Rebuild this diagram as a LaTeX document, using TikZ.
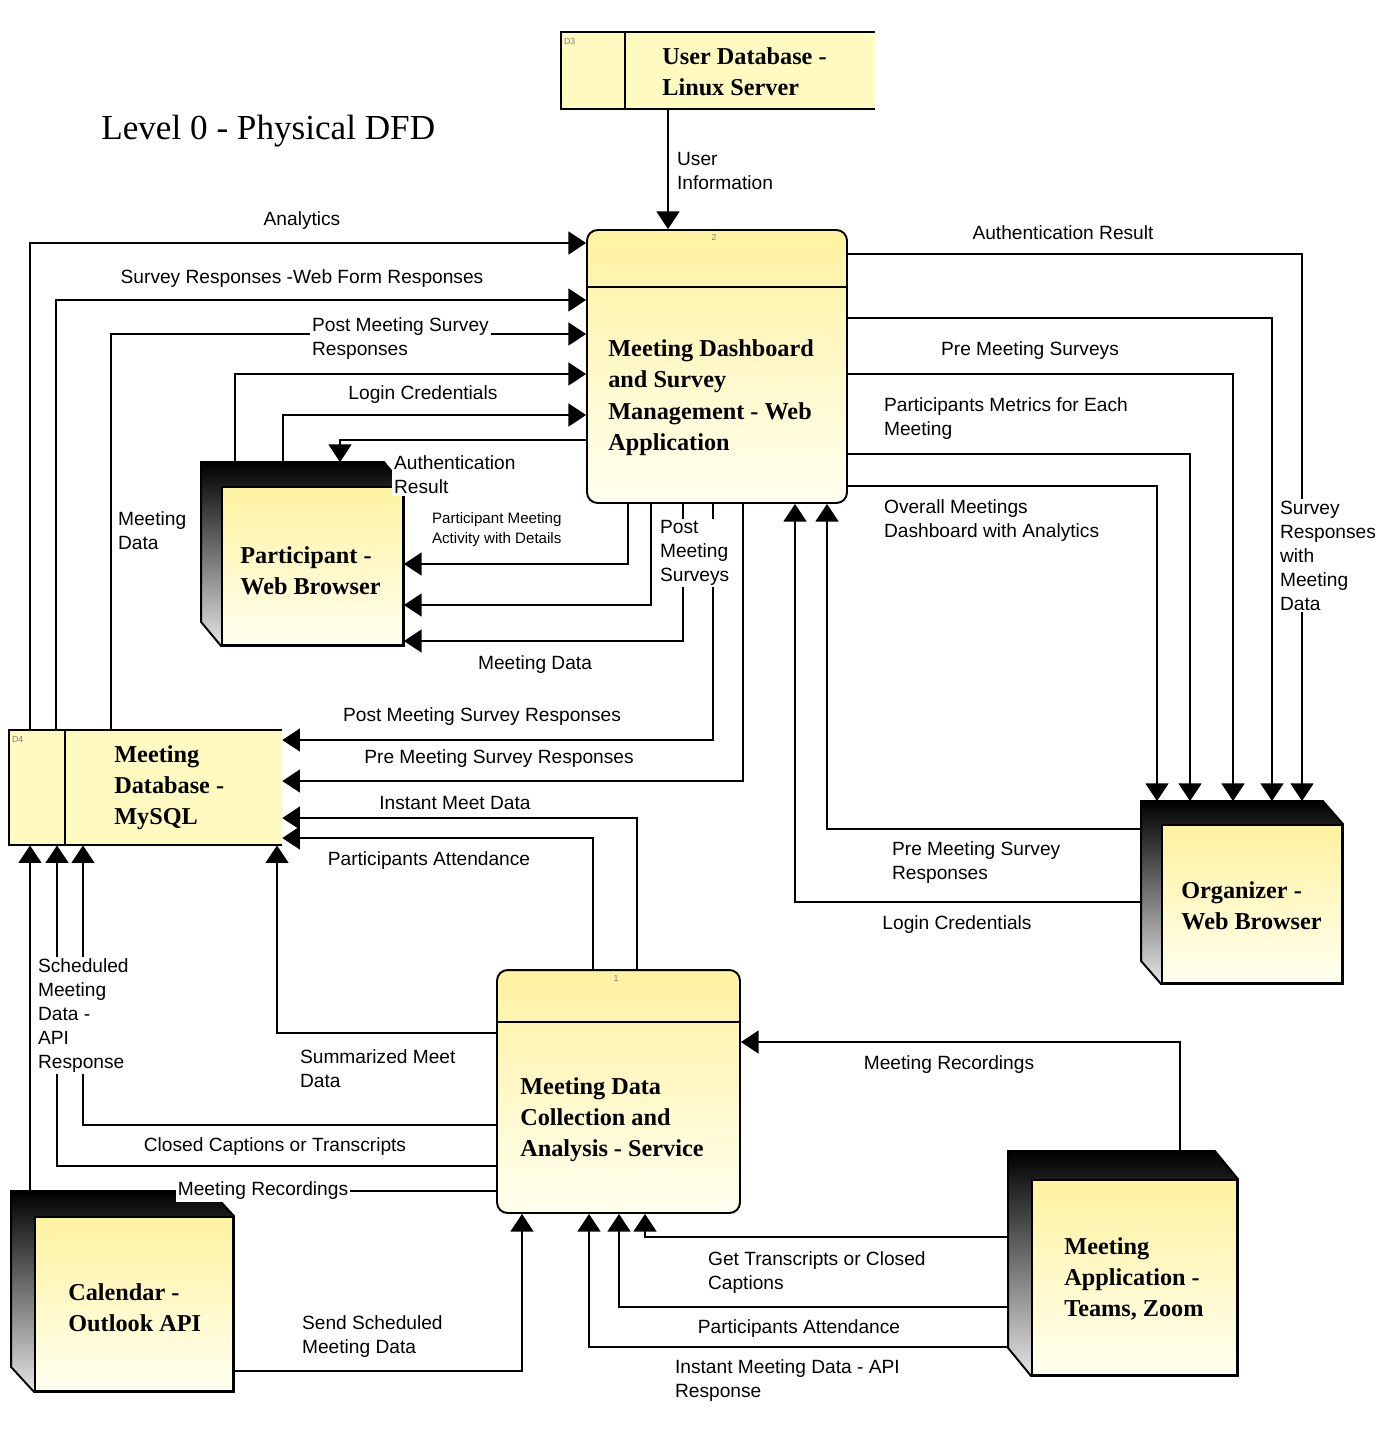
\documentclass[tikz,border=0pt]{standalone}
\usepackage{fontspec}
\setmainfont{Liberation Serif}
\newfontfamily\arialfont{Liberation Sans}
\usetikzlibrary{arrows.meta,backgrounds}
\definecolor{jauneHaut}{RGB}{255,242,160}
\definecolor{jauneBas}{RGB}{255,255,240}
\definecolor{jauneMag}{RGB}{255,250,192}
\newcommand\etiqfont{\arialfont\fontsize{10.9}{13.6}\selectfont}
\newcommand\petitefont{\arialfont\fontsize{8.6}{11.3}\selectfont}
\newcommand\boitefont{\bfseries\fontsize{13.8}{17.8}\selectfont}

\begin{document}
\begin{tikzpicture}[x=0.02cm, y=-0.02cm]
  % Styles du diagramme
  \tikzset{
    trait/.style={line width=1.1pt},
    fleche/.style={trait, -{Triangle[length=10pt,width=13pt]}},
    processus/.style={draw, trait, rounded corners=6pt, top color=jauneHaut, bottom color=jauneBas, inner sep=0pt},
    magasin/.style={fill=jauneMag, inner sep=0pt},
    entite/.style={draw, trait, top color=jauneHaut, bottom color=jauneBas, inner sep=0pt},
    arriere/.style={trait, top color=black, bottom color=black!10},
    etiq/.style={font=\etiqfont, align=left, inner sep=1pt, yshift=-1.6pt},
    masque/.style={etiq, fill=white},
    titreboite/.style={font=\boitefont, align=left, inner sep=0pt, yshift=-1pt},
    numero/.style={font=\arialfont\fontsize{5}{6}\selectfont, text=gray, inner sep=0pt}
  }
  \useasboundingbox (0,0) rectangle (1394,1444);

  \node[font=\fontsize{20}{24}\selectfont, anchor=west, inner sep=0pt, yshift=-1.6pt] (titre) at (101,128) {Level 0 - Physical DFD};

  % Magasins de données
  \node[magasin, minimum width=6.28cm, minimum height=1.54cm] (udb) at (718,70.5) {};
  \draw[trait] (udb.north east) -- (udb.north west) -- (udb.south west) -- (udb.south east);
  \draw[trait] ([shift={(64,0)}]udb.north west) -- ([shift={(64,0)}]udb.south west);
  \node[numero, anchor=north west] (udbnum) at ([shift={(3,6)}]udb.north west) {D3};
  \node[titreboite, anchor=west] (udbtxt) at (662,70) {User Database -\\Linux Server};

  \node[magasin, minimum width=5.46cm, minimum height=2.3cm] (mysql) at (145.5,787.5) {};
  \draw[trait] (mysql.north east) -- (mysql.north west) -- (mysql.south west) -- (mysql.south east);
  \draw[trait] ([shift={(56,0)}]mysql.north west) -- ([shift={(56,0)}]mysql.south west);
  \node[numero, anchor=north west] (mysqlnum) at ([shift={(3,6)}]mysql.north west) {D4};
  \node[titreboite, anchor=west] (mysqltxt) at (114,786) {Meeting\\Database -\\MySQL};

  % Processus
  \node[processus, minimum width=5.2cm, minimum height=5.46cm] (p2) at (717,366.5) {};
  \draw[trait] (p2.west |- 0,287) -- (p2.east |- 0,287);
  \node[numero] (p2num) at (714,237) {2};
  \node[titreboite, anchor=west] (p2txt) at (608,396) {Meeting Dashboard\\and Survey\\Management - Web\\Application};

  \node[processus, minimum width=4.86cm, minimum height=4.86cm] (p1) at (618.5,1091.5) {};
  \draw[trait] (p1.west |- 0,1022) -- (p1.east |- 0,1022);
  \node[numero] (p1num) at (616,978) {1};
  \node[titreboite, anchor=west] (p1txt) at (520,1118) {Meeting Data\\Collection and\\Analysis - Service};

  % Entités externes
  \node[entite, minimum width=3.62cm, minimum height=3.16cm] (part) at (312.5,566) {};
  \node[entite, minimum width=3.6cm, minimum height=3.16cm] (orga) at (1252,904) {};
  \node[entite, minimum width=4.1cm, minimum height=3.9cm] (appli) at (1134.5,1277.5) {};
  \node[entite, minimum width=3.96cm, minimum height=3.48cm] (cal) at (134,1304) {};
  \node[titreboite, anchor=west] (parttxt) at (240,569) {Participant -\\Web Browser};
  \node[titreboite, anchor=west] (orgatxt) at (1181,904) {Organizer -\\Web Browser};
  \node[titreboite, anchor=west] (applitxt) at (1064,1277) {Meeting\\Application -\\Teams, Zoom};
  \node[titreboite, anchor=west] (caltxt) at (68,1306) {Calendar -\\Outlook API};

  % Faces arrière ombrées
  \coordinate (partA) at ([shift={(-20,-24)}]part.north west);
  \coordinate (orgaA) at ([shift={(-20,-23)}]orga.north west);
  \coordinate (appliA) at ([shift={(-23,-28)}]appli.north west);
  \coordinate (calA) at ([shift={(-23,-25)}]cal.north west);
  \coordinate (calB) at ([shift={(-23,-25)}]cal.north east);
  \begin{scope}[on background layer]
    \shadedraw[arriere] (partA) -- ([shift={(-20,-24)}]part.north east) -- (part.north east)
      -- (part.south east) -- (part.south west) -- ([shift={(-20,-24)}]part.south west) -- cycle;
    \shadedraw[arriere] (orgaA) -- ([shift={(-20,-23)}]orga.north east) -- (orga.north east)
      -- (orga.south east) -- (orga.south west) -- ([shift={(-20,-23)}]orga.south west) -- cycle;
    \shadedraw[arriere] (appliA) -- ([shift={(-23,-28)}]appli.north east) -- (appli.north east)
      -- (appli.south east) -- (appli.south west) -- ([shift={(-23,-28)}]appli.south west) -- cycle;
    \shadedraw[arriere] (calA) -- (calB) -- (cal.north east)
      -- (cal.south east) -- (cal.south west) -- ([shift={(-23,-25)}]cal.south west) -- cycle;
  \end{scope}

  % Flux vers le tableau de bord
  \draw[fleche] (668,0 |- udb.south) -- (668,0 |- p2.north);
  \draw[fleche] (30,0 |- mysql.north) |- (p2.west |- 0,243);
  \draw[fleche] (56,0 |- mysql.north) |- (p2.west |- 0,300);
  \draw[fleche] (111,0 |- mysql.north) |- (p2.west |- 0,334);
  \draw[fleche] (235,0 |- partA) |- (p2.west |- 0,374);
  \draw[fleche] (283,0 |- partA) |- (p2.west |- 0,415);
  \draw[fleche] (p2.west |- 0,440) -| (340,0 |- partA);
  \draw[fleche] (orgaA |- 0,829) -| (827,0 |- p2.south);
  \draw[fleche] (orgaA |- 0,902) -| (795,0 |- p2.south);

  % Flux vers l'organisateur
  \draw[fleche] (p2.east |- 0,254) -| (1302,0 |- orgaA);
  \draw[fleche] (p2.east |- 0,318) -| (1272,0 |- orgaA);
  \draw[fleche] (p2.east |- 0,374) -| (1233,0 |- orgaA);
  \draw[fleche] (p2.east |- 0,454) -| (1190,0 |- orgaA);
  \draw[fleche] (p2.east |- 0,486) -| (1157,0 |- orgaA);

  % Flux vers le participant et la base MySQL
  \draw[fleche] (628,0 |- p2.south) |- (part.east |- 0,564);
  \draw[fleche] (651,0 |- p2.south) |- (part.east |- 0,605);
  \draw[fleche] (683,0 |- p2.south) |- (part.east |- 0,641);
  \draw[fleche] (713,0 |- p2.south) |- (mysql.east |- 0,740);
  \draw[fleche] (743,0 |- p2.south) |- (mysql.east |- 0,781);
  \draw[fleche] (637,0 |- p1.north) |- (mysql.east |- 0,818);
  \draw[fleche] (593,0 |- p1.north) |- (mysql.east |- 0,838);
  \draw[fleche] (p1.west |- 0,1033) -| (277,0 |- mysql.south);
  \draw[fleche] (p1.west |- 0,1125) -| (83,0 |- mysql.south);
  \draw[fleche] (p1.west |- 0,1166) -| (57,0 |- mysql.south);
  \draw[fleche] (30,0 |- calA) -- (30,0 |- mysql.south);
  \draw[trait] (p1.west |- calB) -- (calB);

  % Flux vers la collecte
  \draw[fleche] (1180,0 |- appliA) |- (p1.east |- 0,1042);
  \draw[fleche] (appliA |- 0,1237) -| (645,0 |- p1.south);
  \draw[fleche] (appliA |- 0,1307) -| (619,0 |- p1.south);
  \draw[fleche] (appliA |- 0,1347) -| (589,0 |- p1.south);
  \draw[fleche] (cal.east |- 0,1371) -| (522,0 |- p1.south);

  % Libellés des flux
  \node[etiq] (lAna) at (302,218) {Analytics};
  \node[etiq] (lSurv) at (302,276) {Survey Responses -Web Form Responses};
  \node[masque, anchor=west] (lPost) at (310,336) {Post Meeting Survey\\Responses};
  \node[etiq] (lLog) at (423,392) {Login Credentials};
  \node[masque, anchor=west] (lAuth) at (392,472) {Authentication\\Result};
  \node[etiq, anchor=west] (lMData) at (116,528) {Meeting\\Data};
  \node[etiq, font=\petitefont, anchor=west] (lAct) at (430,527) {Participant Meeting\\Activity with Details};
  \node[masque, anchor=west] (lPMS) at (658,550) {Post\\Meeting\\Surveys};
  \node[etiq] (lMD2) at (535,662) {Meeting Data};
  \node[etiq] (lPMSR) at (482,714) {Post Meeting Survey Responses};
  \node[etiq] (lPreR) at (499,756) {Pre Meeting Survey Responses};
  \node[etiq] (lInst) at (455,800) {Instant Meet Data};
  \node[etiq] (lAtt) at (429,858) {Participants Attendance};
  \node[etiq, anchor=west] (lUser) at (675,168) {User\\Information};
  \node[etiq] (lAuthR) at (1063,230) {Authentication Result};
  \node[etiq] (lPreS) at (1030,348) {Pre Meeting Surveys};
  \node[etiq, anchor=west] (lMetr) at (882,416) {Participants Metrics for Each\\Meeting};
  \node[etiq, anchor=west] (lDash) at (882,518) {Overall Meetings\\Dashboard with Analytics};
  \node[masque, anchor=west] (lSRM) at (1278,553) {Survey\\Responses\\with\\Meeting\\Data};
  \node[etiq, anchor=west] (lPreO) at (890,860) {Pre Meeting Survey\\Responses};
  \node[etiq] (lLogO) at (957,922) {Login Credentials};
  \node[masque, anchor=west] (lSched) at (36,1013) {Scheduled\\Meeting\\Data -\\API\\Response};
  \node[etiq, anchor=west] (lSumm) at (298,1066) {Summarized Meet\\Data};
  \node[etiq] (lCC) at (275,1144) {Closed Captions or Transcripts};
  \node[masque] (lRec) at (263,1188) {Meeting Recordings};
  \node[etiq] (lRec2) at (949,1062) {Meeting Recordings};
  \node[etiq, anchor=west] (lGet) at (706,1270) {Get Transcripts or Closed\\Captions};
  \node[etiq] (lAtt2) at (799,1326) {Participants Attendance};
  \node[etiq, anchor=west] (lInst2) at (673,1378) {Instant Meeting Data - API\\Response};
  \node[etiq, anchor=west] (lSend) at (300,1334) {Send Scheduled\\Meeting Data};
\end{tikzpicture}
\end{document}
